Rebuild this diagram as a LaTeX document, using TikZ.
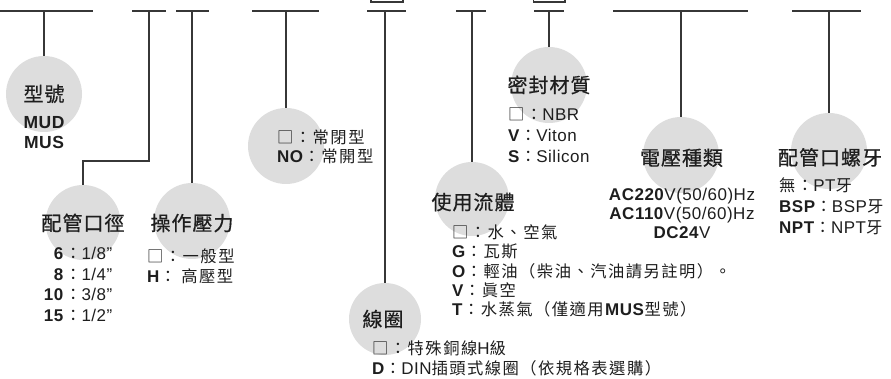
\documentclass[tikz,border=0pt]{standalone}
\usepackage{fontspec}
\setmainfont{Liberation Sans}[LetterSpace=3]
\newfontfamily\cjkt{Noto Sans CJK TC}[LetterSpace=5, FakeBold=0.6]
\newfontfamily\cjko{Noto Sans CJK TC}[LetterSpace=9]
\newcommand\T[1]{{\cjko\fontsize{16.3}{20}\selectfont #1}}
\definecolor{bub}{RGB}{221,221,221}
\definecolor{ln}{RGB}{55,55,55}
\definecolor{tx}{RGB}{30,30,30}
\tikzset{
  bubble/.style={circle, fill=bub, draw=none, minimum size=#1, inner sep=0pt},
  bubble/.default=76pt,
  link/.style={draw=ln, line width=1.3pt},
  tbox/.style={draw=ln, line width=1.6pt},
  title/.style={font=\cjkt\fontsize{20}{24}\selectfont, anchor=base, inner sep=0pt, text=tx},
  opt/.style={font=\fontsize{17}{20}\selectfont, anchor=base west, inner sep=0pt, text=tx},
  big/.style={font=\bfseries\fontsize{17.5}{20}\selectfont, anchor=base, inner sep=0pt, text=tx},
}
\begin{document}
\begin{tikzpicture}[x=1pt,y=-1pt]
\useasboundingbox (0,0) rectangle (891,379);
% bubbles
\node[bubble] (c1) at (44,94) {};
\node[bubble=75pt] (c2) at (83,222.5) {};
\node[bubble] (c3) at (192,221) {};
\node[bubble] (c4) at (286,146) {};
\node[bubble=74pt] (c5) at (472,199) {};
\node[bubble] (c6) at (549,85) {};
\node[bubble] (c7) at (681,155) {};
\node[bubble] (c8) at (829,151) {};
\node[bubble=72pt] (c9) at (385,319) {};
% top bars
\coordinate (b1l) at (0,11);   \coordinate (b1r) at (93,11);  \coordinate (b1) at (44,11);
\coordinate (b2l) at (132,11); \coordinate (b2r) at (166,11); \coordinate (b2) at (149,11);
\coordinate (b3l) at (176,11); \coordinate (b3r) at (209,11); \coordinate (b3) at (192,11);
\coordinate (b4l) at (252,11); \coordinate (b4r) at (319,11); \coordinate (b4) at (286,11);
\coordinate (b5l) at (367,11); \coordinate (b5r) at (406,11); \coordinate (b5) at (385,11);
\coordinate (b6l) at (456,11); \coordinate (b6r) at (486,11); \coordinate (b6) at (472,11);
\coordinate (b7l) at (534,11); \coordinate (b7r) at (564,11); \coordinate (b7) at (549,11);
\coordinate (b8l) at (613,11); \coordinate (b8r) at (748,11); \coordinate (b8) at (681,11);
\coordinate (b9l) at (792,11); \coordinate (b9r) at (861,11); \coordinate (b9) at (829,11);
\coordinate (k2) at (83,161);
\foreach \i in {1,...,9} {\draw[link] (b\i l) -- (b\i r);}
\draw[link] (b1) -- (c1.north);
\draw[link] (b2) |- (k2) -- (c2.north);
\draw[link] (b3) -- (c3.north);
\draw[link] (b4) -- (c4.north);
\draw[link] (b5) -- (c9.north);
\draw[link] (b6) -- (c5.north);
\draw[link] (b7) -- (c6.north);
\draw[link] (b8) -- (c7.north);
\draw[link] (b9) -- (c8.north);
% cut boxes at top edge
\draw[tbox] (371,-12) rectangle (403,2.2);
\draw[tbox] (533.5,-12) rectangle (565,2.2);
% 型號
\node[title] (t1) at (44,101.5) {型號};
\node[big] (m1) at (44,129) {MUD};
\node[big] (m2) at (44,149) {MUS};
% 配管口徑
\node[title] (t2) at (83,230.6) {配管口徑};
\node[opt, anchor=base east] (n1) at (64,259.5) {\textbf{6}};
\node[opt] (v1) at (65,259.5) {\T{：}1/8"};
\node[opt, anchor=base east] (n2) at (64,280) {\textbf{8}};
\node[opt] (v2) at (65,280) {\T{：}1/4"};
\node[opt, anchor=base east] (n3) at (64,300.5) {\textbf{10}};
\node[opt] (v3) at (65,300.5) {\T{：}3/8"};
\node[opt, anchor=base east] (n4) at (64,321) {\textbf{15}};
\node[opt] (v4) at (65,321) {\T{：}1/2"};
% 操作壓力
\node[title] (t3) at (192,230.6) {操作壓力};
\node[opt] (o31) at (147,262.2) {\T{□：一般型}};
\node[opt] (o32) at (147,282.2) {\textbf{H}\T{： 高壓型}};
% NC / NO
\node[opt] (o41) at (277,143.2) {\T{□：常閉型}};
\node[opt] (o42) at (277,162.7) {\textbf{NO}\T{：常開型}};
% 密封材質
\node[title] (t6) at (549,92.6) {密封材質};
\node[opt] (o61) at (508,120.2) {\T{□：}NBR};
\node[opt] (o62) at (508,141.2) {\textbf{V}\T{：}Viton};
\node[opt] (o63) at (508,162.2) {\textbf{S}\T{：}Silicon};
% 使用流體
\node[title] (t5) at (473,209.6) {使用流體};
\node[opt] (o51) at (452,238.2) {\T{□：水、空氣}};
\node[opt] (o52) at (452,258) {\textbf{G}\T{：瓦斯}};
\node[opt] (o53) at (452,277.5) {\textbf{O}\T{：輕油（柴油、汽油請另註明）。}};
\node[opt] (o54) at (452,296.5) {\textbf{V}\T{：眞空}};
\node[opt] (o55) at (452,315.5) {\textbf{T}\T{：水蒸氣（僅適用}\textbf{MUS}\T{型號）}};
% 線圈
\node[title] (t9) at (383,326.6) {線圈};
\node[opt] (o91) at (372,354.5) {\T{□：特殊銅線}H\T{級}};
\node[opt] (o92) at (372,374.5) {\textbf{D}\T{：}DIN\T{插頭式線圈（依規格表選購）}};
% 電壓種類
\node[title] (t7) at (681.5,165.3) {電壓種類};
\node[opt, anchor=base] (o71) at (682,200.2) {\textbf{AC220}V(50/60)Hz};
\node[opt, anchor=base] (o72) at (682,219.2) {\textbf{AC110}V(50/60)Hz};
\node[opt, anchor=base] (o73) at (682,238.2) {\textbf{DC24}V};
% 配管口螺牙
\node[title] (t8) at (830,165) {配管口螺牙};
\node[opt] (o81) at (779,191.2) {\T{無：}PT\T{牙}};
\node[opt] (o82) at (779,212.2) {\textbf{BSP}\T{：}BSP\T{牙}};
\node[opt] (o83) at (779,233.2) {\textbf{NPT}\T{：}NPT\T{牙}};
\end{tikzpicture}
\end{document}
